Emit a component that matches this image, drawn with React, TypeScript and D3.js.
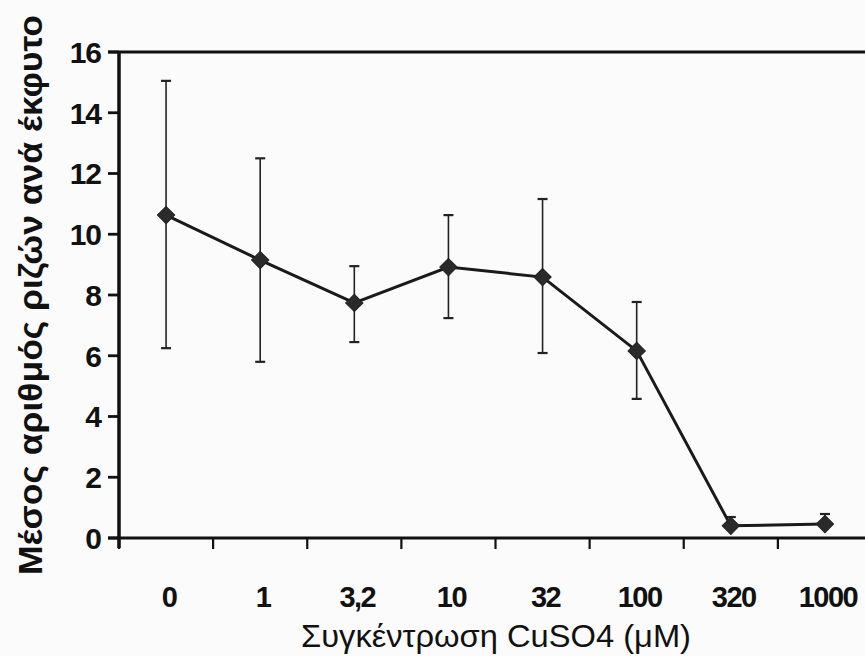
import React from "react";
import * as d3 from "d3";

const categories = ["0", "1", "3,2", "10", "32", "100", "320", "1000"];
const means = [10.63, 9.15, 7.74, 8.92, 8.59, 6.16, 0.4, 0.46];
const upper = [15.05, 12.5, 8.95, 10.63, 11.16, 7.77, 0.69, 0.79];
const lower = [6.25, 5.8, 6.45, 7.24, 6.09, 4.58, 0.4, 0.46];
const yTicks = [0, 2, 4, 6, 8, 10, 12, 14, 16];
const xTitle = "Συγκέντρωση CuSO4 (μM)";
const yTitle = "Μέσος αριθμός ριζών ανά έκφυτο";

const W = 865;
const H = 656;

export default function App() {
  const x = d3.scaleBand<string>().domain(categories).range([119, 872]).padding(0);
  const y = d3.scaleLinear().domain([0, 16]).range([538, 52]);
  const cx = (c: string) => (x(c) as number) + x.bandwidth() / 2;
  const line = d3
    .line<number>()
    .x((_, i) => cx(categories[i]))
    .y((d) => y(d));
  const diamond = d3.symbol().type(d3.symbolSquare).size(150)();
  const boundaries = categories.map((c) => x(c) as number);
  const font = "'Liberation Sans', Arial, sans-serif";

  return (
    <svg
      width={W}
      height={H}
      style={{ position: "absolute", left: 0, top: 0, background: "#fbfbfc" }}
    >
      <rect x={0} y={0} width={W} height={H} fill="#fbfbfc" />
      {/* top border */}
      <line x1={108} x2={W} y1={y(16)} y2={y(16)} stroke="#111" strokeWidth={3.2} />
      {/* y axis */}
      <line x1={119} x2={119} y1={y(16) - 1} y2={548} stroke="#111" strokeWidth={3.5} />
      {yTicks.map((t) => (
        <g key={t}>
          <line x1={108} x2={119} y1={y(t)} y2={y(t)} stroke="#111" strokeWidth={2.8} />
          <text
            x={101}
            y={y(t)}
            dy="0.36em"
            textAnchor="end"
            fontFamily={font}
            fontWeight="bold"
            fontSize={30}
            letterSpacing={-1}
            fill="#111"
          >
            {t}
          </text>
        </g>
      ))}
      {/* x axis */}
      <line x1={108} x2={W} y1={y(0)} y2={y(0)} stroke="#111" strokeWidth={3.2} />
      {boundaries.map((b, i) => (
        <line key={i} x1={b} x2={b} y1={y(0)} y2={549} stroke="#111" strokeWidth={2.2} />
      ))}
      {categories.map((c) => (
        <text
          key={c}
          x={cx(c) + 3}
          y={607}
          textAnchor="middle"
          fontFamily={font}
          fontWeight="bold"
          fontSize={29}
          letterSpacing={-1.5}
          fill="#111"
        >
          {c}
        </text>
      ))}
      <text
        x={496}
        y={647}
        textAnchor="middle"
        fontFamily={font}
        fontSize={32}
        textLength={390}
        lengthAdjust="spacingAndGlyphs"
        fill="#111"
      >
        {xTitle}
      </text>
      <text
        transform={`translate(42,${295}) rotate(-90)`}
        textAnchor="middle"
        fontFamily={font}
        fontWeight="bold"
        fontSize={33}
        textLength={560}
        lengthAdjust="spacingAndGlyphs"
        fill="#111"
      >
        {yTitle}
      </text>
      {/* error bars */}
      {categories.map((c, i) => (
        <g key={c} stroke="#222" strokeWidth={1.6}>
          <line x1={cx(c)} x2={cx(c)} y1={y(upper[i])} y2={y(lower[i])} />
          <line x1={cx(c) - 5} x2={cx(c) + 5} y1={y(upper[i])} y2={y(upper[i])} strokeWidth={2.2} />
          <line x1={cx(c) - 5} x2={cx(c) + 5} y1={y(lower[i])} y2={y(lower[i])} strokeWidth={2.2} />
        </g>
      ))}
      <path d={line(means) || ""} fill="none" stroke="#1a1a1a" strokeWidth={3} />
      {categories.map((c, i) => (
        <path
          key={c}
          d={diamond || ""}
          transform={`translate(${cx(c)},${y(means[i])}) rotate(45)`}
          fill="#2a2a2a"
          stroke="#222"
          strokeWidth={1}
        />
      ))}
    </svg>
  );
}
